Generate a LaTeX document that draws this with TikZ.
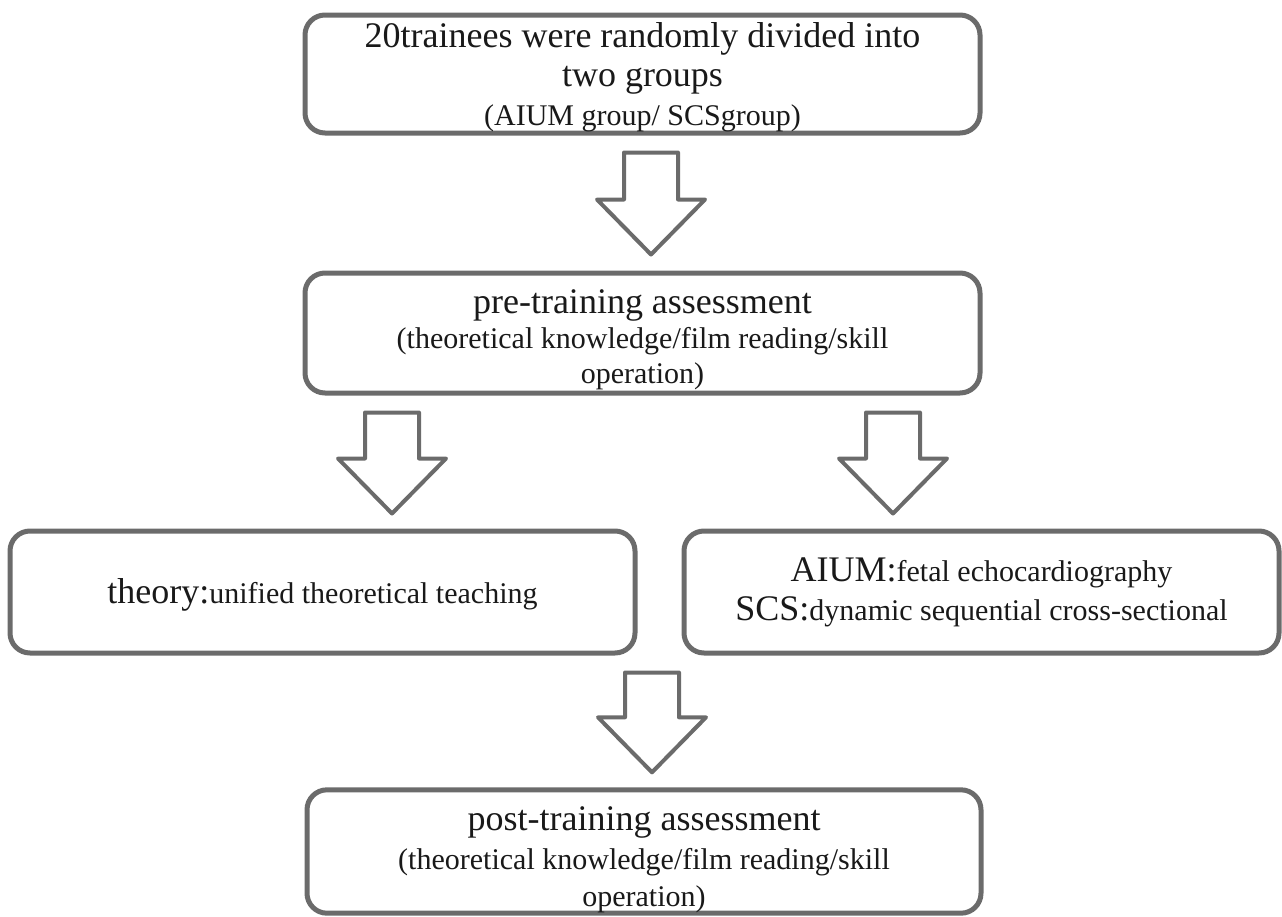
\documentclass[tikz,border=0pt]{standalone}
\usepackage{fontspec}
\setmainfont{Liberation Serif}
\usetikzlibrary{calc}
\definecolor{boxgray}{HTML}{6B6B6B}
\newcommand{\bigtxt}{\fontsize{36}{39}\selectfont}
\newcommand{\smtxt}{\fontsize{30}{39}\selectfont}
% block arrow from shaft top #1 down to tip #2
\newcommand{\fatdown}[2]{%
  \draw[fatarrow] ($(#1)+(-27,0)$) -- ($(#2)+(-27,-55)$) -- ($(#2)+(-54,-55)$)
    -- (#2) -- ($(#2)+(54,-55)$) -- ($(#2)+(27,-55)$) -- ($(#1)+(27,0)$) -- cycle;}
\tikzset{
  stage/.style={draw=boxgray,line width=5pt,rounded corners=20pt,align=center,
    inner sep=0pt,font=\bigtxt,text=black!90},
  fatarrow/.style={draw=boxgray,line width=4pt,fill=white,line join=round}}

\begin{document}
\begin{tikzpicture}[x=1pt,y=-1pt]
    \useasboundingbox (0,0) rectangle (1282,916);
        \node[stage,minimum width=675pt,minimum height=118pt] (b1) at (642.5,74)
            {\rule{0pt}{31pt}20trainees were randomly divided into\\two groups\\{\smtxt (AIUM group/ SCSgroup)}};
        \node[stage,minimum width=675pt,minimum height=120pt] (b2) at (642.5,333)
            {\rule{0pt}{37pt}pre-training assessment\\[-4pt]{\smtxt (theoretical knowledge/film reading/skill}\\[-4pt]{\smtxt operation)}};
        \node[stage,minimum width=625pt,minimum height=122pt] (b3) at (322.5,592)
            {\rule{0pt}{31pt}theory:{\smtxt unified theoretical teaching}};
        \node[stage,minimum width=595pt,minimum height=122pt] (b4) at (981.5,592)
            {AIUM:{\smtxt fetal echocardiography}\\SCS:{\smtxt dynamic sequential cross-sectional}};
        \node[stage,minimum width=674pt,minimum height=119pt] (b5) at (644,851.5)
            {\rule{0pt}{41pt}post-training assessment\\{\smtxt (theoretical knowledge/film reading/skill}\\[-2pt]{\smtxt operation)}};
        % arrows
        \coordinate (a1) at ($(651,0 |- b1.south)+(0,17)$);
        \coordinate (t1) at ($(651,0 |- b2.north)+(0,-16)$);
        \coordinate (a2) at ($(392,0 |- b2.south)+(0,17)$);
        \coordinate (t2) at ($(392,0 |- b3.north)+(0,-15)$);
        \coordinate (a3) at ($(893,0 |- b2.south)+(0,17)$);
        \coordinate (t3) at ($(893,0 |- b4.north)+(0,-15)$);
        \coordinate (a4) at ($(652,0 |- b3.south)+(0,17)$);
        \coordinate (t4) at ($(652,0 |- b5.north)+(0,-15)$);
        \fatdown{a1}{t1}
        \fatdown{a2}{t2}
        \fatdown{a3}{t3}
        \fatdown{a4}{t4}
    \end{tikzpicture}
\end{document}
